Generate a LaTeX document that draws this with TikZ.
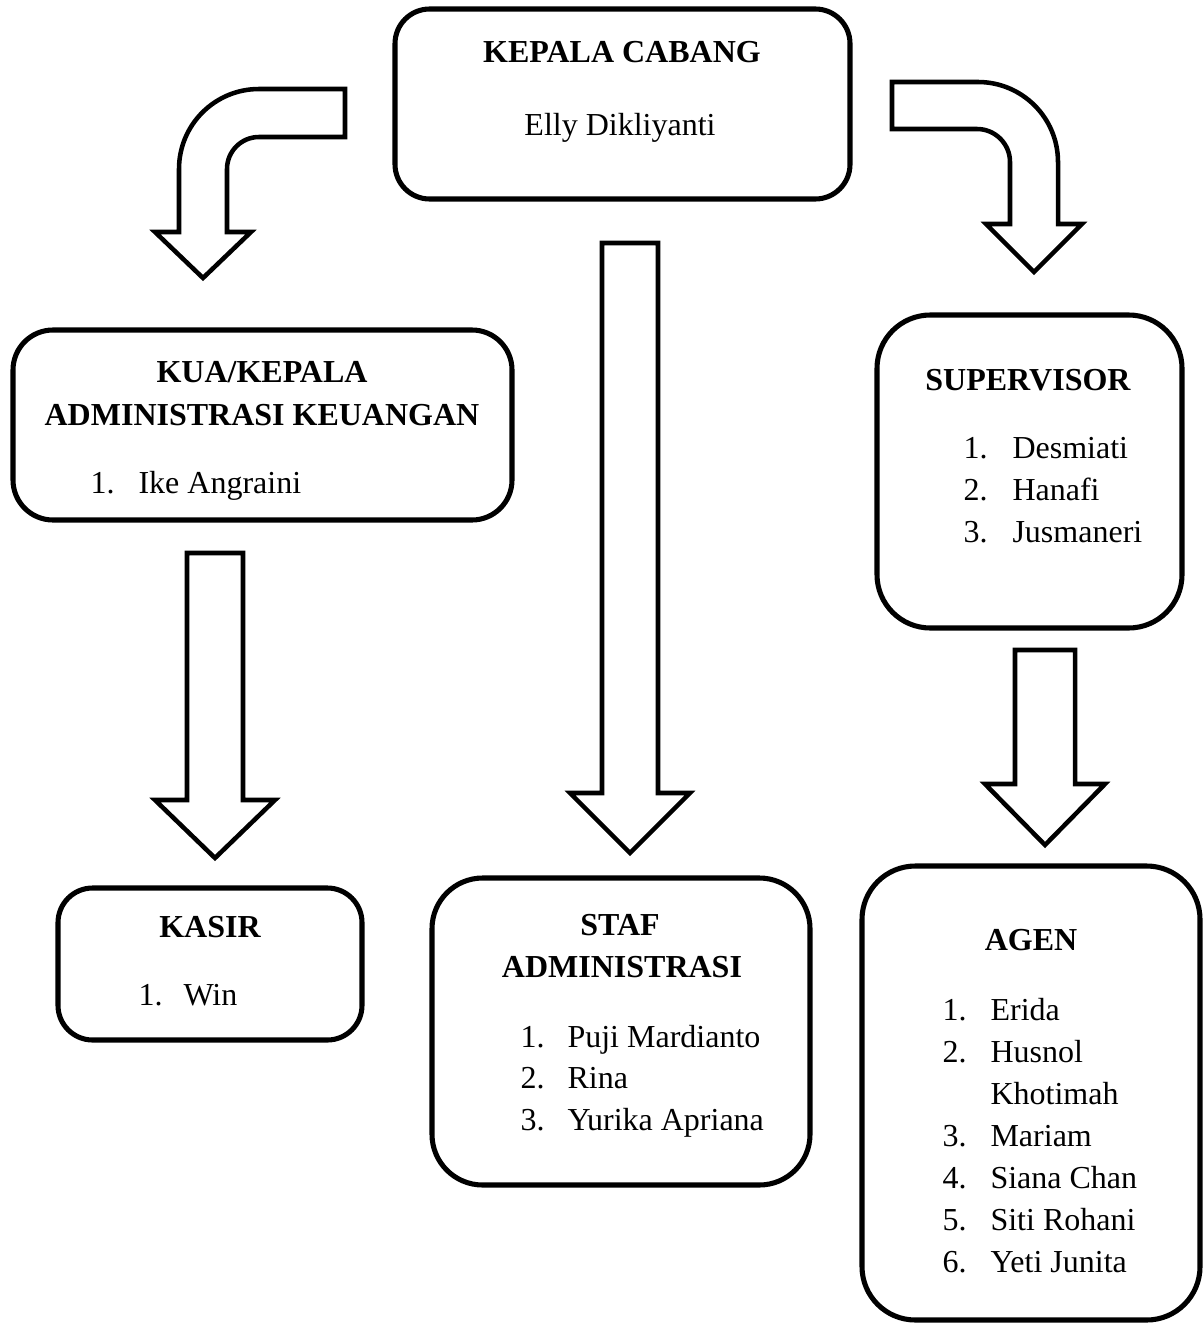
\documentclass[tikz,border=0pt]{standalone}
\usepackage{fontspec}
\setmainfont{Liberation Serif}
\usepackage{tikz}
\usetikzlibrary{positioning}
\newcommand{\pxu}{0.375pt}
\tikzset{
    % Box styles
    org box/.style n args={3}{rectangle, draw, line width=1.9pt, rounded corners=#3,
                  minimum width=#1*\pxu, minimum height=#2*\pxu, inner sep=0pt},
    % Text styles
    box title/.style={font=\bfseries\fontsize{12}{14}\selectfont, anchor=base, inner sep=0pt},
    box text/.style={font=\fontsize{12}{14}\selectfont, anchor=base, inner sep=0pt},
    list item/.style={font=\fontsize{12}{14}\selectfont, anchor=base west, inner sep=0pt},
    % Arrow styles
    block arrow/.style={draw, line width=1.7pt, fill=white, line join=miter, miter limit=10},
}

\begin{document}
\begin{tikzpicture}[x=0.375pt, y=-0.375pt]
    \useasboundingbox (0,0) rectangle (1203,1323);

    % Boxes
    \node[org box={455}{190}{13pt}] (kepala) at (622.5,104) {};
    \node[org box={499}{190}{15pt}] (kua) at (262.5,425) {};
    \node[org box={305}{313}{20pt}] (supervisor) at (1029.5,471.5) {};
    \node[org box={304}{152}{13pt}] (kasir) at (210,964) {};
    \node[org box={378}{307}{19pt}] (staf) at (621,1031.5) {};
    \node[org box={338}{454}{20pt}] (agen) at (1031,1093) {};

    % Titles
    \node[box title] (kepala title) at (622,63) {KEPALA CABANG};
    \node[box text] (kepala name) at (620,135) {Elly Dikliyanti};
    \node[box title] (kua title1) at (262,382) {KUA/KEPALA};
    \node[box title] (kua title2) at (262,425) {ADMINISTRASI KEUANGAN};
    \node[box title] (sup title) at (1028,390) {SUPERVISOR};
    \node[box title] (kasir title) at (210,937) {KASIR};
    \node[box title] (staf title1) at (620,935) {STAF};
    \node[box title] (staf title2) at (622,977) {ADMINISTRASI};
    \node[box title] (agen title) at (1031,950) {AGEN};

    % Lists
    \node[list item] (kua num1) at (90,493) {1.};
    \node[list item] (kua name1) at (138,493) {Ike Angraini};
    \node[list item] (kasir num1) at (138,1005) {1.};
    \node[list item] (kasir name1) at (183,1005) {Win};
    \foreach \i/\who/\yy in {1/Desmiati/458, 2/Hanafi/500, 3/Jusmaneri/542} {
        \node[list item] (sup num\i) at (963,\yy) {\i.};
        \node[list item] (sup name\i) at (1012,\yy) {\who};
    }
    \foreach \i/\who/\yy in {1/Puji Mardianto/1047, 2/Rina/1088, 3/Yurika Apriana/1130} {
        \node[list item] (staf num\i) at (520,\yy) {\i.};
        \node[list item] (staf name\i) at (567,\yy) {\who};
    }
    \foreach \i/\who/\yy in {1/Erida/1020, 2/Husnol/1062, 3/Mariam/1146, 4/Siana Chan/1188, 5/Siti Rohani/1230, 6/Yeti Junita/1272} {
        \node[list item] (agen num\i) at (942,\yy) {\i.};
        \node[list item] (agen name\i) at (990,\yy) {\who};
    }
    \node[list item] (agen name2b) at (990,1104) {Khotimah};

    % Straight block arrows
    \foreach \cx/\ys/\yh/\yt/\hw in {215/553/800/858/28, 630/243/793/853/28, 1045/650/784/845/30} {
        \draw[block arrow] (\cx-\hw,\ys) -- (\cx+\hw,\ys) -- (\cx+\hw,\yh) -- (\cx+60,\yh)
            -- (\cx,\yt) -- (\cx-60,\yh) -- (\cx-\hw,\yh) -- cycle;
    }

    % Bent block arrows
    \draw[block arrow] (345,89) -- (259,89) .. controls (214.8,89) and (179,124.8) .. (179,169)
        -- (179,232) -- (155,232) -- (203,278) -- (251,232) -- (227,232) -- (227,169)
        .. controls (227,151.3) and (241.3,137) .. (259,137) -- (345,137) -- cycle;
    \draw[block arrow] (892,82) -- (978,82) .. controls (1022.2,82) and (1058,117.8) .. (1058,162)
        -- (1058,224) -- (1082,224) -- (1034,272) -- (986,224) -- (1010,224) -- (1010,162)
        .. controls (1010,143.8) and (995.2,129) .. (977,129) -- (892,129) -- cycle;
\end{tikzpicture}
\end{document}
